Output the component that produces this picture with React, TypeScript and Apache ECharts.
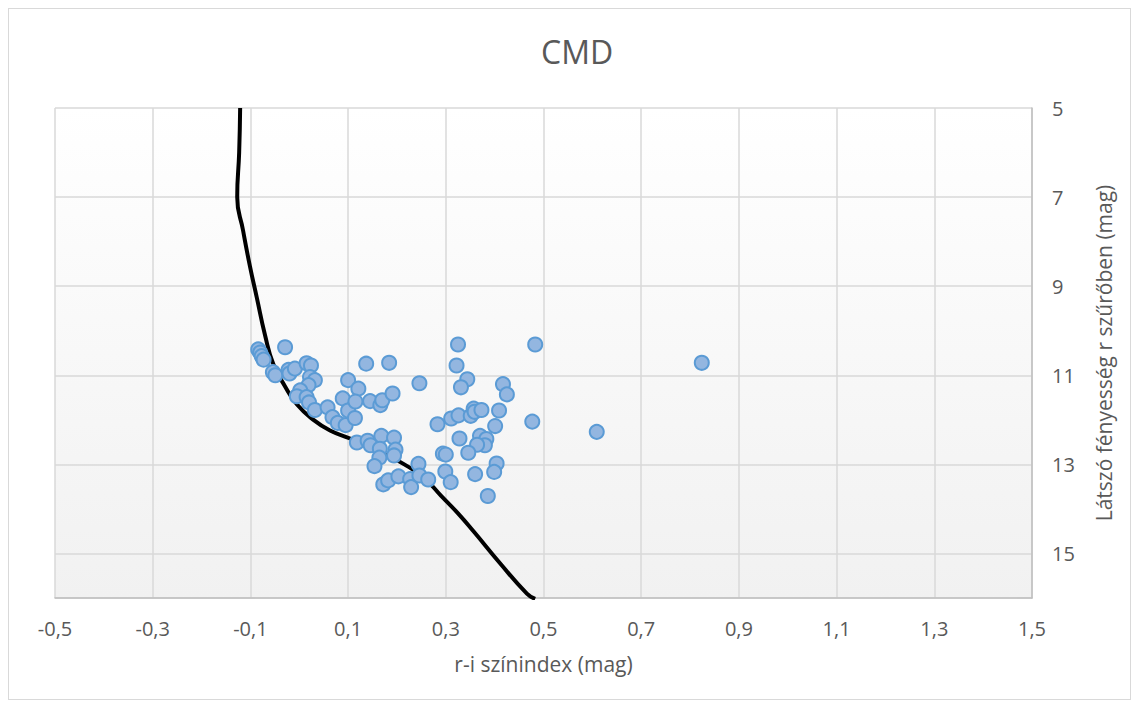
import React, { useEffect, useRef } from "react";
import * as echarts from "echarts";

// Isochrone (black curve): r-i colour index vs. apparent r magnitude
const isoColor = [-0.121, -0.123, -0.127, -0.115, -0.101, -0.087, -0.070, -0.053, -0.029, -0.005, 0.029, 0.063, 0.104, 0.172, 0.215, 0.255, 0.290, 0.325, 0.358, 0.411, 0.466, 0.483];
const isoMag = [5.0, 6.0, 7.0, 7.75, 8.55, 9.25, 10.1, 10.75, 11.25, 11.65, 12.0, 12.24, 12.42, 12.76, 13.0, 13.3, 13.7, 14.1, 14.52, 15.22, 15.9, 16.02];

// Observed stars
const starColor = [
  -0.084, -0.080, -0.077, -0.073, -0.029, -0.054, -0.049, -0.022, -0.020, -0.009,
  0.015, 0.024, 0.022, 0.032, 0.019, 0.002, -0.005, 0.015, 0.020, 0.032,
  0.058, 0.068, 0.079, 0.095, 0.089, 0.100, 0.114, 0.100, 0.121, 0.115,
  0.145, 0.166, 0.170, 0.191, 0.137, 0.184, 0.246, 0.118, 0.140, 0.146,
  0.168, 0.194, 0.165, 0.164, 0.197, 0.194, 0.154, 0.244, 0.172, 0.182,
  0.203, 0.227, 0.229, 0.246, 0.264, 0.283, 0.294, 0.300, 0.299, 0.310,
  0.311, 0.326, 0.351, 0.357, 0.359, 0.373, 0.409, 0.401, 0.477, 0.328,
  0.370, 0.383, 0.380, 0.364, 0.346, 0.404, 0.399, 0.360, 0.386, 0.325,
  0.483, 0.322, 0.344, 0.331, 0.417, 0.425, 0.824, 0.609
];
const starMag = [
  10.42, 10.49, 10.57, 10.65, 10.37, 10.93, 11.00, 10.88, 10.96, 10.85,
  10.73, 10.78, 11.04, 11.11, 11.22, 11.34, 11.47, 11.49, 11.61, 11.78,
  11.72, 11.94, 12.07, 12.12, 11.52, 11.79, 11.96, 11.11, 11.30, 11.59,
  11.58, 11.67, 11.56, 11.41, 10.74, 10.72, 11.18, 12.51, 12.47, 12.57,
  12.36, 12.40, 12.65, 12.85, 12.67, 12.80, 13.04, 12.99, 13.45, 13.36,
  13.27, 13.33, 13.51, 13.25, 13.34, 12.10, 12.76, 12.78, 13.16, 13.40,
  11.97, 11.90, 11.91, 11.75, 11.82, 11.78, 11.79, 12.14, 12.04, 12.42,
  12.36, 12.43, 12.57, 12.56, 12.74, 12.98, 13.17, 13.22, 13.71, 10.31,
  10.31, 10.78, 11.09, 11.27, 11.20, 11.43, 10.72, 12.27
];

const xTicks = { min: -0.5, max: 1.5, step: 0.2 };
const yTicks = { min: 5, max: 16, step: 2 };

const FONT = "'Open Sans', 'Noto Sans', sans-serif";
const TEXT = "#595959";
const GRIDC = "#d9d9d9";

export default function App() {
  const ref = useRef<HTMLDivElement>(null);
  useEffect(() => {
    if (!ref.current) return;
    const chart = echarts.init(ref.current, undefined, { renderer: "svg" });
    const isoData = isoColor.map((c, i) => [c, isoMag[i]]);
    const starData = starColor.map((c, i) => [c, starMag[i]]);
    chart.setOption({
      animation: false,
      backgroundColor: "#ffffff",
      textStyle: { fontFamily: FONT },
      title: {
        text: "CMD",
        left: 527,
        top: 21,
        textStyle: { color: TEXT, fontSize: 32, fontWeight: "normal", fontFamily: FONT },
      },
      grid: {
        left: 46,
        right: 98,
        top: 99,
        bottom: 101,
        show: true,
        borderWidth: 0,
        backgroundColor: new echarts.graphic.LinearGradient(0, 0, 0, 1, [
          { offset: 0, color: "#ffffff" },
          { offset: 1, color: "#f1f1f1" },
        ]),
      },
      xAxis: {
        type: "value",
        min: xTicks.min,
        max: xTicks.max,
        interval: xTicks.step,
        name: "r-i színindex (mag)",
        nameLocation: "middle",
        nameGap: 55,
        nameTextStyle: { color: TEXT, fontSize: 21, fontFamily: FONT },
        axisLine: { show: true, onZero: false, lineStyle: { color: "#bfbfbf", width: 1.5 } },
        axisTick: { show: false },
        axisLabel: {
          color: TEXT,
          fontSize: 20,
          fontFamily: FONT,
          margin: 20,
          formatter: (v: number) => v.toFixed(1).replace(".", ","),
        },
        splitLine: { show: true, lineStyle: { color: GRIDC, width: 1.5 } },
      },
      yAxis: {
        type: "value",
        position: "right",
        inverse: true,
        min: yTicks.min,
        max: yTicks.max,
        interval: yTicks.step,
        name: "Látszó fényesség r szűrőben (mag)",
        nameLocation: "middle",
        nameRotate: 90,
        nameGap: 61,
        nameTextStyle: { color: TEXT, fontSize: 21, fontFamily: FONT },
        axisLine: { show: true, onZero: false, lineStyle: { color: "#bfbfbf", width: 1.5 } },
        axisTick: { show: false },
        axisLabel: {
          color: TEXT,
          fontSize: 20,
          fontFamily: FONT,
          margin: 20,
          showMaxLabel: false,
        },
        splitLine: { show: true, lineStyle: { color: GRIDC, width: 1.5 } },
      },
      series: [
        {
          type: "line",
          data: isoData,
          smooth: 0.5,
          showSymbol: false,
          z: 2,
          lineStyle: { color: "#000000", width: 4 },
        },
        {
          type: "scatter",
          data: starData,
          symbol: "circle",
          symbolSize: 14,
          z: 3,
          itemStyle: { color: "#93b6e0", borderColor: "#5b9bd5", borderWidth: 2, opacity: 1 },
        },
      ],
    });
    return () => chart.dispose();
  }, []);
  return (
    <div
      ref={ref}
      style={{ width: 1123, height: 692, border: "1px solid #d9d9d9", boxSizing: "border-box" }}
    />
  );
}
